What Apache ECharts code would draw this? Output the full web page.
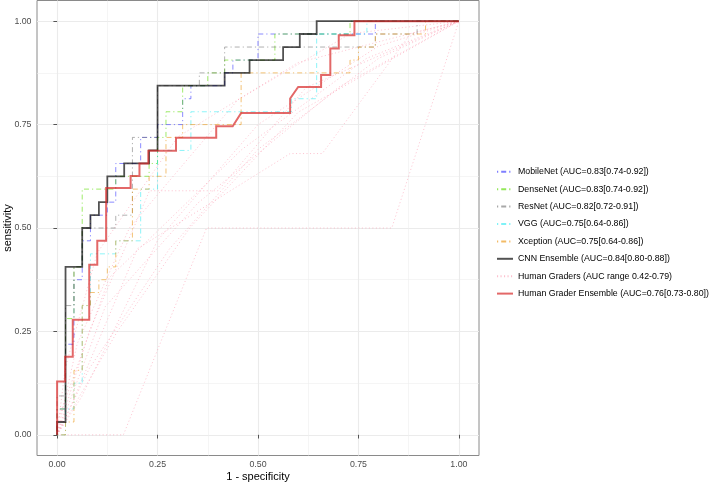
<!DOCTYPE html>
<html><head><meta charset="utf-8">
<script src="https://cdn.jsdelivr.net/npm/echarts@6/dist/echarts.min.js"></script>
<style>html,body{margin:0;padding:0;background:#fff}#c{width:713px;height:483px}</style>
</head><body><div id="c"></div>
<script>
// ---- tick values ----
const majorTicks = [0, 0.25, 0.5, 0.75, 1];
const minorTicks = [0.125, 0.375, 0.625, 0.875];

// ---- legend labels ----
const names = {
  mobilenet: 'MobileNet (AUC=0.83[0.74-0.92])',
  densenet: 'DenseNet (AUC=0.83[0.74-0.92])',
  resnet: 'ResNet (AUC=0.82[0.72-0.91])',
  vgg: 'VGG (AUC=0.75[0.64-0.86])',
  xception: 'Xception (AUC=0.75[0.64-0.86])',
  cnnEns: 'CNN Ensemble (AUC=0.84[0.80-0.88])',
  graders: 'Human Graders (AUC range 0.42-0.79)',
  humanEns: 'Human Grader Ensemble (AUC=0.76[0.73-0.80])'
};

// ---- ROC curves: [1 - specificity, sensitivity] ----
const mobilenet = [[0,0],[0,0.0625],[0.021,0.0625],[0.021,0.219],[0.042,0.219],[0.042,0.375],[0.0625,0.375],[0.0625,0.469],[0.083,0.469],[0.083,0.531],[0.125,0.531],[0.125,0.5625],[0.146,0.5625],[0.146,0.656],[0.208,0.656],[0.208,0.719],[0.25,0.719],[0.25,0.75],[0.3125,0.75],[0.3125,0.8125],[0.333,0.8125],[0.333,0.844],[0.417,0.844],[0.417,0.875],[0.4375,0.875],[0.4375,0.906],[0.5,0.906],[0.5,0.969],[0.792,0.969],[0.792,1],[1,1]];
const densenet = [[0,0],[0,0.0625],[0.021,0.0625],[0.021,0.281],[0.042,0.281],[0.042,0.406],[0.0625,0.406],[0.0625,0.594],[0.146,0.594],[0.146,0.625],[0.229,0.625],[0.229,0.656],[0.25,0.656],[0.25,0.719],[0.271,0.719],[0.271,0.781],[0.3125,0.781],[0.3125,0.844],[0.375,0.844],[0.375,0.875],[0.417,0.875],[0.417,0.906],[0.542,0.906],[0.542,0.969],[0.729,0.969],[0.729,1],[1,1]];
const resnet = [[0,0],[0,0.094],[0.021,0.094],[0.021,0.3125],[0.042,0.3125],[0.042,0.406],[0.0625,0.406],[0.0625,0.5],[0.146,0.5],[0.146,0.531],[0.1875,0.531],[0.1875,0.719],[0.25,0.719],[0.25,0.844],[0.354,0.844],[0.354,0.875],[0.417,0.875],[0.417,0.9375],[0.792,0.9375],[0.792,0.969],[0.896,0.969],[0.896,1],[1,1]];
const vgg = [[0,0],[0.021,0],[0.021,0.0625],[0.042,0.0625],[0.042,0.125],[0.0625,0.125],[0.0625,0.3125],[0.083,0.3125],[0.083,0.4375],[0.146,0.4375],[0.146,0.469],[0.208,0.469],[0.208,0.594],[0.25,0.594],[0.25,0.6875],[0.333,0.6875],[0.333,0.781],[0.583,0.781],[0.583,0.8125],[0.646,0.8125],[0.646,0.969],[0.771,0.969],[0.771,1],[1,1]];
const xception = [[0,0],[0.021,0],[0.021,0.031],[0.042,0.031],[0.042,0.156],[0.0625,0.156],[0.0625,0.3125],[0.083,0.3125],[0.083,0.344],[0.104,0.344],[0.104,0.375],[0.125,0.375],[0.125,0.406],[0.146,0.406],[0.146,0.469],[0.1875,0.469],[0.1875,0.594],[0.229,0.594],[0.229,0.625],[0.271,0.625],[0.271,0.719],[0.3125,0.719],[0.3125,0.75],[0.458,0.75],[0.458,0.875],[0.729,0.875],[0.729,0.906],[0.75,0.906],[0.75,0.9375],[0.792,0.9375],[0.792,0.969],[0.917,0.969],[0.917,1],[1,1]];
const cnnEnsemble = [[0,0],[0,0.031],[0.021,0.031],[0.021,0.406],[0.0625,0.406],[0.0625,0.5],[0.083,0.5],[0.083,0.531],[0.104,0.531],[0.104,0.5625],[0.125,0.5625],[0.125,0.625],[0.167,0.625],[0.167,0.656],[0.229,0.656],[0.229,0.6875],[0.25,0.6875],[0.25,0.844],[0.417,0.844],[0.417,0.875],[0.479,0.875],[0.479,0.906],[0.5625,0.906],[0.5625,0.9375],[0.604,0.9375],[0.604,0.969],[0.646,0.969],[0.646,1],[1,1]];
const humanEnsemble = [[0,0],[0,0.129],[0.02,0.129],[0.02,0.189],[0.039,0.189],[0.039,0.278],[0.08,0.278],[0.08,0.411],[0.1,0.411],[0.1,0.469],[0.122,0.469],[0.122,0.597],[0.183,0.597],[0.183,0.626],[0.205,0.626],[0.205,0.656],[0.227,0.656],[0.227,0.687],[0.296,0.687],[0.296,0.718],[0.396,0.718],[0.396,0.746],[0.437,0.746],[0.458,0.778],[0.58,0.778],[0.58,0.813],[0.6,0.841],[0.657,0.841],[0.657,0.87],[0.68,0.87],[0.68,0.934],[0.701,0.934],[0.701,0.966],[0.74,0.966],[0.74,1],[1,1]];

// ---- individual human graders ----
const grader1 = [[0,0],[0.165,0],[0.372,0.5],[0.833,0.5],[1,1]];
const grader2 = [[0,0],[0.05,0.22],[0.18,0.5],[0.45,0.81],[0.73,0.97],[1,1]];
const grader3 = [[0,0],[0.08,0.25],[0.23,0.59],[0.40,0.59],[0.62,0.84],[1,1]];
const grader4 = [[0,0],[0.03,0.06],[0.2,0.45],[0.58,0.68],[0.66,0.68],[0.88,0.97],[1,1]];
const grader5 = [[0,0],[0.12,0.31],[0.35,0.56],[0.7,0.84],[1,1]];
const grader6 = [[0,0],[0.02,0.16],[0.1,0.44],[0.3,0.72],[0.6,0.9],[1,1]];
const grader7 = [[0,0],[0.06,0.09],[0.25,0.47],[0.5,0.75],[0.8,0.94],[1,1]];
const grader8 = [[0,0],[0.15,0.25],[0.33,0.5],[0.6,0.78],[1,1]];
const grader9 = [[0,0],[0,0.03],[0.13,0.38],[0.46,0.69],[0.77,0.91],[1,1]];
const grader10 = [[0,0],[0.08,0.16],[0.28,0.45],[0.5,0.69],[0.8,0.91],[1,1]];
const graders = [grader1, grader2, grader3, grader4, grader5, grader6, grader7, grader8, grader9, grader10];

const FONT = '"Liberation Sans", Arial, Helvetica, sans-serif';
const dotdash = [1.2, 3, 5, 3];

function lineSeries(name, data, color, width, type, z) {
  return {
    type: 'line', name: name, data: data, xAxisIndex: 0, yAxisIndex: 0,
    symbol: 'none', showSymbol: false, smooth: false, z: z,
    lineStyle: { color: color, width: width, type: type, cap: 'butt', join: 'miter' },
    itemStyle: { color: color },
    emphasis: { disabled: true }, silent: true
  };
}

const series = [];
graders.forEach(g => series.push(lineSeries(names.graders, g, 'rgba(250,140,165,0.55)', 0.9, [1.1, 2.4], 2)));
series.push(lineSeries(names.mobilenet, mobilenet, 'rgba(40,40,255,0.6)', 0.9, dotdash, 3));
series.push(lineSeries(names.densenet, densenet, 'rgba(90,220,0,0.65)', 0.9, dotdash, 3));
series.push(lineSeries(names.resnet, resnet, 'rgba(110,110,110,0.6)', 0.9, dotdash, 3));
series.push(lineSeries(names.vgg, vgg, 'rgba(0,230,240,0.5)', 0.9, dotdash, 3));
series.push(lineSeries(names.xception, xception, 'rgba(235,150,20,0.65)', 0.9, dotdash, 3));
series.push(lineSeries(names.cnnEns, cnnEnsemble, 'rgba(0,0,0,0.68)', 1.8, 'solid', 4));
series.push(lineSeries(names.humanEns, humanEnsemble, 'rgba(215,40,40,0.7)', 2, 'solid', 5));

const chart = echarts.init(document.getElementById('c'), null, { renderer: 'canvas' });
chart.setOption({
  animation: false,
  backgroundColor: '#ffffff',
  textStyle: { fontFamily: FONT },
  grid: {
    left: 37, top: 0.5, width: 442, height: 455,
    show: true, borderColor: '#8a8a8a', borderWidth: 1, backgroundColor: 'transparent',
    containLabel: false, outerBoundsMode: 'none'
  },
  legend: {
    orient: 'vertical', left: 496, top: 166.2, padding: 0,
    itemWidth: 16, itemHeight: 14, itemGap: 6.2,
    itemStyle: { opacity: 0 },
    data: [names.mobilenet, names.densenet, names.resnet, names.vgg, names.xception, names.cnnEns, names.graders, names.humanEns],
    textStyle: { fontSize: 8.8, color: '#000', fontFamily: FONT },
    selectedMode: false
  },
  xAxis: [{
    type: 'value', gridIndex: 0, min: -0.05, max: 1.05,
    name: '1 - specificity', nameLocation: 'middle', nameGap: 15.5, nameMoveOverlap: false,
    nameTextStyle: { fontSize: 11, color: '#000', fontFamily: FONT },
    axisLine: { show: false },
    axisTick: { show: true, customValues: majorTicks, length: 3.7, lineStyle: { color: '#555', width: 1 } },
    axisLabel: { show: true, customValues: majorTicks, formatter: v => v.toFixed(2), fontSize: 8.8, color: '#4D4D4D', margin: 4.5, fontFamily: FONT },
    splitLine: { show: true, lineStyle: { color: '#EBEBEB', width: 1.1 } },
    minorSplitLine: { show: false }
  }, {
    type: 'value', gridIndex: 0, min: -0.05, max: 1.05, position: 'bottom',
    axisLine: { show: false }, axisLabel: { show: false },
    axisTick: { show: false, customValues: minorTicks },
    splitLine: { show: true, lineStyle: { color: '#EFEFEF', width: 0.6 } }
  }],
  yAxis: [{
    type: 'value', gridIndex: 0, min: -0.05, max: 1.05,
    name: 'sensitivity', nameLocation: 'middle', nameGap: 24, nameRotate: 90, nameMoveOverlap: false,
    nameTextStyle: { fontSize: 11, color: '#000', fontFamily: FONT },
    axisLine: { show: false },
    axisTick: { show: true, customValues: majorTicks, length: 3.7, lineStyle: { color: '#555', width: 1 } },
    axisLabel: { show: true, customValues: majorTicks, formatter: v => v.toFixed(2), fontSize: 8.8, color: '#4D4D4D', margin: 5.5, fontFamily: FONT },
    splitLine: { show: true, lineStyle: { color: '#EBEBEB', width: 1.1 } }
  }, {
    type: 'value', gridIndex: 0, min: -0.05, max: 1.05, position: 'left',
    axisLine: { show: false }, axisLabel: { show: false },
    axisTick: { show: false, customValues: minorTicks },
    splitLine: { show: true, lineStyle: { color: '#EFEFEF', width: 0.6 } }
  }],
  series: series
});
</script>
</body></html>
